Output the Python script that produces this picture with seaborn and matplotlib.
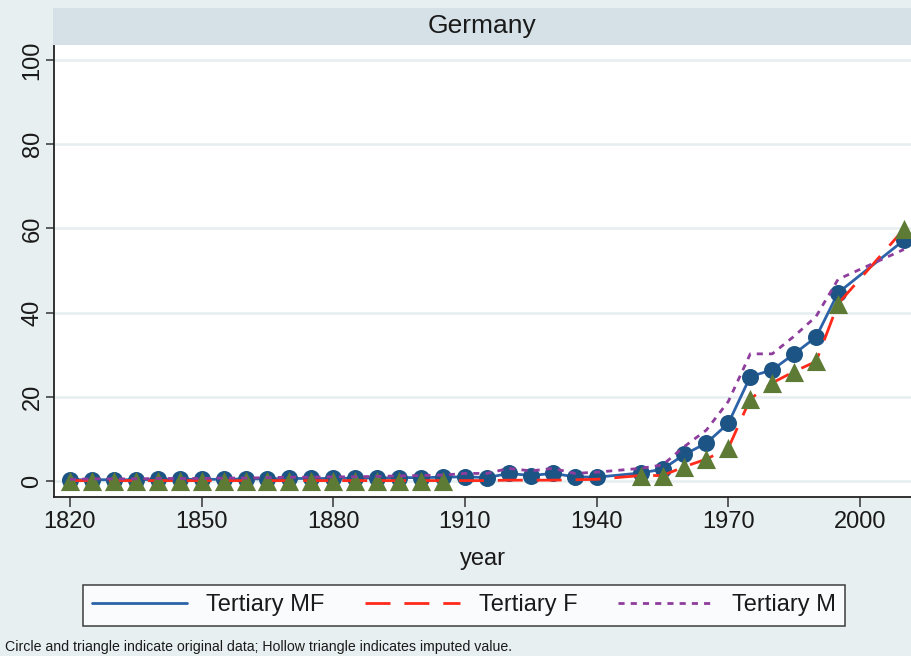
import numpy as np
import pandas as pd
import matplotlib
matplotlib.use("Agg")
import matplotlib.pyplot as plt
import seaborn as sns
from matplotlib.lines import Line2D

sns.set_style("white")
plt.rcParams['font.family'] = ['Liberation Sans', 'DejaVu Sans']

# ---- data ----
years = list(range(1820, 1941, 5)) + list(range(1950, 1996, 5)) + [2010]
mf = [0.3, 0.3, 0.3, 0.3, 0.4, 0.4, 0.4, 0.4, 0.5,
      0.5, 0.6, 0.6, 0.6, 0.7, 0.7, 0.8, 0.8, 0.9,
      1.0, 0.8, 1.8, 1.3, 1.8, 1.0, 0.9,
      1.9, 2.8, 6.3, 9.0, 13.7, 24.8, 26.4, 30.2, 34.2, 44.7,
      57.2]
f = [0.1, 0.1, 0.1, 0.1, 0.1, 0.1, 0.1, 0.1, 0.1,
     0.1, 0.1, 0.1, 0.1, 0.1, 0.1, 0.1, 0.1, 0.1,
     0.1, 0.1, 0.2, 0.2, 0.2, 0.3, 0.4,
     1.3, 1.3, 3.4, 5.2, 7.8, 19.5, 23.3, 26.0, 28.4, 42.1,
     59.8]
m = [0.4, 0.5, 0.5, 0.5, 0.6, 0.6, 0.6, 0.7, 0.7,
     0.8, 0.9, 0.9, 1.0, 1.0, 1.1, 1.2, 1.3, 1.4,
     1.8, 1.8, 3.0, 2.4, 3.0, 1.8, 2.1,
     3.0, 3.8, 8.2, 12.1, 18.9, 30.2, 30.2, 34.4, 39.1, 47.9,
     55.0]
# years with original (marked) observations
mf_marked = years
f_marked = list(range(1820, 1906, 5)) + list(range(1950, 1996, 5)) + [2010]

series_names = ["Tertiary MF", "Tertiary F", "Tertiary M"]
x_ticks = [1820, 1850, 1880, 1910, 1940, 1970, 2000]
y_ticks = [0, 20, 40, 60, 80, 100]

df = pd.DataFrame({"year": years, "mf": mf, "f": f, "m": m})
df_mf_pts = df[df["year"].isin(mf_marked)]
df_f_pts = df[df["year"].isin(f_marked)]

# ---- colors ----
BG = "#e8eff1"
STRIP = "#d5e1e7"
C_MF = "#2c63a8"
C_F = "#ff2a1a"
C_M = "#8e3d9c"
C_CIRC = "#1c5585"
C_TRI = "#5d7b35"

W, H = 911, 656
fig = plt.figure(figsize=(W / 100, H / 100), dpi=100, facecolor=BG)

left, right = 54, 911
top, bottom = 45, 496.7
ax = fig.add_axes([left / W, (H - bottom) / H, (right - left) / W, (bottom - top) / H])
ax.set_facecolor("white")

# lines and markers
sns.lineplot(data=df, x="year", y="mf", ax=ax, color=C_MF, lw=2.0, zorder=3)
sns.scatterplot(data=df_mf_pts, x="year", y="mf", ax=ax, color=C_CIRC, s=150,
                marker="o", linewidth=0, zorder=4)
sns.lineplot(data=df, x="year", y="f", ax=ax, color=C_F, lw=2.0, zorder=5,
             dashes=False)
ax.lines[-1].set_dashes([9, 5])
sns.scatterplot(data=df_f_pts, x="year", y="f", ax=ax, color=C_TRI, s=190,
                marker="^", linewidth=0, zorder=6)
sns.lineplot(data=df, x="year", y="m", ax=ax, color=C_M, lw=2.0, zorder=7)
ax.lines[-1].set_dashes([2.2, 2.2])

# axis scales
px_per_year = (860 - 70) / 180.0
ax.set_xlim(1820 - (70 - left) / px_per_year, 1820 + (right - 70) / px_per_year)
px_per_unit = (481 - 60) / 100.0
ax.set_ylim(-(bottom - 481) / px_per_unit, 100 + (60 - top) / px_per_unit)

ax.set_xticks(x_ticks)
ax.set_yticks(y_ticks)
ax.set_yticklabels([str(v) for v in y_ticks], rotation=90, va="center")
ax.tick_params(axis="y", length=6, width=1.1, color="#333333", labelsize=17,
               pad=1.5, left=True)
ax.tick_params(axis="x", length=7, width=1.1, color="#333333", labelsize=17,
               pad=3, bottom=True)
for lab in ax.get_xticklabels() + ax.get_yticklabels():
    lab.set_color("#1a1a1a")

ax.grid(axis="y", color="#e6eef0", lw=1.8, zorder=0)
ax.grid(axis="x", visible=False)
ax.set_axisbelow(True)

for s in ["top", "right"]:
    ax.spines[s].set_visible(False)
for s in ["left", "bottom"]:
    ax.spines[s].set_color("#222222")
    ax.spines[s].set_linewidth(1.3)

ax.set_xlabel("year", fontsize=17, color="#1a1a1a", labelpad=11)
ax.set_ylabel("")

# strip title
sax = fig.add_axes([53 / W, (H - top) / H, (W - 53) / W, 37 / H])
sax.set_facecolor(STRIP)
sax.set_xticks([])
sax.set_yticks([])
for s in sax.spines.values():
    s.set_visible(False)
sax.text(0.5, 0.5, "Germany", ha="center", va="center", fontsize=19,
         color="#1a1a1a", transform=sax.transAxes)

# legend
handles = [
    Line2D([], [], color=C_MF, lw=2.0),
    Line2D([], [], color=C_F, lw=2.0, dashes=[9, 5]),
    Line2D([], [], color=C_M, lw=2.0, dashes=[2.2, 2.2]),
]
leg = fig.legend(handles, series_names, loc="center",
                 bbox_to_anchor=(464 / W, (H - 605.5) / H), ncol=3,
                 fontsize=17, frameon=True, fancybox=False, edgecolor="#111111",
                 facecolor="white", handlelength=4.0, handletextpad=0.8,
                 columnspacing=1.75, borderpad=0.4, borderaxespad=0)
leg.get_frame().set_linewidth(1.1)
for t in leg.get_texts():
    t.set_color("#1a1a1a")

fig.text(5 / W, (H - 647) / H,
         "Circle and triangle indicate original data; Hollow triangle indicates imputed value.",
         fontsize=10.2, color="#1a1a1a", ha="left", va="center")

fig.savefig("out.png", dpi=100, facecolor=BG)
